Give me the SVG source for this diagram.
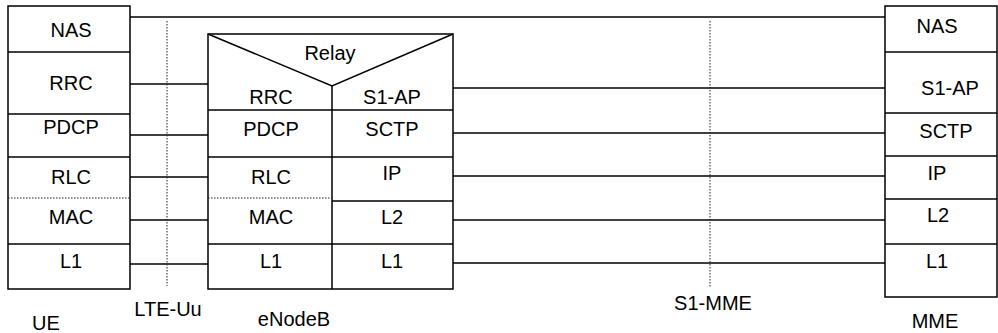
<svg xmlns="http://www.w3.org/2000/svg" width="998" height="333" viewBox="0 0 998 333">
  <style>
    .box { fill: #fff; stroke: #000; stroke-width: 1.5; }
    .ln { stroke: #000; stroke-width: 1.5; fill: none; }
    .dot { stroke: #222; stroke-width: 1; stroke-dasharray: 1.5 1.5; fill: none; }
    text { font-family: "Liberation Sans", Arial, sans-serif; font-size: 20px; fill: #000; text-anchor: middle; }
  </style>
  <rect width="998" height="333" fill="#fff"/>

  <!-- links between peer layers -->
  <g id="connectors">
    <line class="ln" x1="130" y1="17" x2="885" y2="17"/>
    <line class="ln" x1="130" y1="84" x2="208" y2="84"/>
    <line class="ln" x1="130" y1="135" x2="208" y2="135"/>
    <line class="ln" x1="130" y1="177" x2="208" y2="177"/>
    <line class="ln" x1="130" y1="220" x2="208" y2="220"/>
    <line class="ln" x1="130" y1="264" x2="208" y2="264"/>
    <line class="ln" x1="453" y1="88" x2="885" y2="88"/>
    <line class="ln" x1="453" y1="133" x2="885" y2="133"/>
    <line class="ln" x1="453" y1="176" x2="885" y2="176"/>
    <line class="ln" x1="453" y1="220" x2="885" y2="220"/>
    <line class="ln" x1="453" y1="263" x2="885" y2="263"/>
    <!-- interface reference points -->
    <line class="dot" x1="167" y1="21" x2="167" y2="286"/>
    <line class="dot" x1="710" y1="21" x2="710" y2="287"/>
  </g>

  <!-- UE protocol stack -->
  <g id="ue">
    <rect class="box" x="8" y="6" width="122" height="283"/>
    <line class="ln" x1="8" y1="52" x2="130" y2="52"/>
    <line class="ln" x1="8" y1="114" x2="130" y2="114"/>
    <line class="ln" x1="8" y1="157" x2="130" y2="157"/>
    <line class="dot" x1="8" y1="198" x2="130" y2="198"/>
    <line class="ln" x1="8" y1="244" x2="130" y2="244"/>
    <text x="71" y="37">NAS</text>
    <text x="71" y="90">RRC</text>
    <text x="71" y="134">PDCP</text>
    <text x="71" y="184">RLC</text>
    <text x="71" y="224">MAC</text>
    <text x="71" y="268">L1</text>
    <text x="46" y="330">UE</text>
  </g>

  <!-- eNodeB protocol stack -->
  <g id="enodeb">
    <rect class="box" x="208" y="34" width="245" height="255"/>
    <polyline class="ln" points="208,34 332,86 453,34"/>
    <line class="ln" x1="332" y1="86" x2="332" y2="289"/>
    <line class="ln" x1="208" y1="110" x2="453" y2="110"/>
    <line class="ln" x1="208" y1="157" x2="453" y2="157"/>
    <line class="dot" x1="208" y1="198" x2="332" y2="198"/>
    <line class="ln" x1="332" y1="201" x2="453" y2="201"/>
    <line class="ln" x1="208" y1="244" x2="453" y2="244"/>
    <text x="330" y="60">Relay</text>
    <text x="271" y="104">RRC</text>
    <text x="392" y="104">S1-AP</text>
    <text x="271" y="136">PDCP</text>
    <text x="392" y="136">SCTP</text>
    <text x="271" y="184">RLC</text>
    <text x="392" y="180">IP</text>
    <text x="271" y="224">MAC</text>
    <text x="392" y="224">L2</text>
    <text x="271" y="268">L1</text>
    <text x="392" y="268">L1</text>
    <text x="294" y="326">eNodeB</text>
  </g>

  <!-- MME protocol stack -->
  <g id="mme">
    <rect class="box" x="885" y="6" width="112" height="291"/>
    <line class="ln" x1="885" y1="52" x2="997" y2="52"/>
    <line class="ln" x1="885" y1="113" x2="997" y2="113"/>
    <line class="ln" x1="885" y1="156" x2="997" y2="156"/>
    <line class="ln" x1="885" y1="199" x2="997" y2="199"/>
    <line class="ln" x1="885" y1="244" x2="997" y2="244"/>
    <text x="937" y="33">NAS</text>
    <text x="950" y="95">S1-AP</text>
    <text x="946" y="138">SCTP</text>
    <text x="937" y="180">IP</text>
    <text x="938" y="222">L2</text>
    <text x="937" y="268">L1</text>
    <text x="935" y="328">MME</text>
  </g>

  <!-- interface names -->
  <g id="labels">
    <text x="168" y="316">LTE-Uu</text>
    <text x="713" y="310">S1-MME</text>
  </g>
</svg>
